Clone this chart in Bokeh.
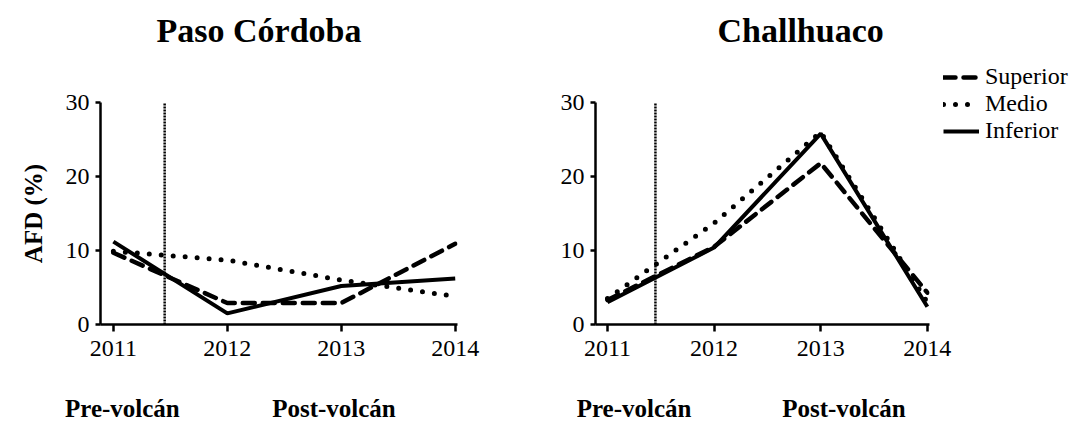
from bokeh.plotting import figure
from bokeh.models import FixedTicker, Legend, LegendItem, LinearAxis, Title
from bokeh.layouts import row
from bokeh.embed import file_html
from bokeh.resources import INLINE

years = [2011, 2012, 2013, 2014]
yticks = [0, 10, 20, 30]

# Paso Córdoba
pc_superior = [9.7, 2.9, 2.9, 10.9]
pc_medio = [9.9, 8.7, 6.0, 3.8]
pc_inferior = [11.2, 1.5, 5.2, 6.2]

# Challhuaco
ch_superior = [3.3, 10.5, 21.8, 4.3]
ch_medio = [3.5, 13.7, 26.0, 3.0]
ch_inferior = [3.0, 10.4, 25.8, 2.4]

series_names = ["Superior", "Medio", "Inferior"]
period_labels = ["Pre-volcán", "Post-volcán"]
volcano_x = 2011.45

FONT = "Liberation Serif"


def make_panel(title, sup, med, inf, x_start, fw, bl, br, bt, bb, ylabel, t_off, period_pos, legend=False):
    p = figure(width=bl + fw + br, height=bt + 222 + bb, frame_width=fw, frame_height=222,
               x_range=(x_start, 2014.02), y_range=(0, 30), title=None,
               output_backend="svg", toolbar_location=None,
               min_border_left=bl, min_border_right=br, min_border_top=bt, min_border_bottom=bb)
    p.outline_line_color = None
    p.xgrid.visible = False
    p.ygrid.visible = False
    p.border_fill_color = "white"

    # spacer between frame and title, then the title itself
    p.add_layout(Title(text=" ", text_font=FONT, text_font_size="34px"), "above")
    p.add_layout(Title(text=title, text_font=FONT, text_font_size="34px", text_font_style="bold",
                       text_color="black", align="left", offset=t_off), "above")

    for ax in (p.xaxis[0], p.yaxis[0]):
        ax.axis_line_width = 2.5
        ax.axis_line_color = "black"
        ax.major_tick_line_width = 2.5
        ax.major_tick_line_color = "black"
        ax.minor_tick_line_color = None
        ax.major_tick_in = 0
        ax.major_label_text_font = FONT
        ax.major_label_text_font_size = "24px"
        ax.major_label_text_color = "black"
    p.xaxis.ticker = FixedTicker(ticks=years)
    p.yaxis.ticker = FixedTicker(ticks=yticks)
    p.xaxis.major_tick_out = 7
    p.yaxis.major_tick_out = 5
    p.xaxis.major_label_standoff = 9
    p.yaxis.major_label_standoff = 6
    if ylabel:
        p.yaxis.axis_label = ylabel
        p.yaxis.axis_label_text_font = FONT
        p.yaxis.axis_label_text_font_size = "25px"
        p.yaxis.axis_label_text_font_style = "bold"
        p.yaxis.axis_label_text_color = "black"
        p.yaxis.axis_label_standoff = 16

    # period labels as a second, line-less axis below
    pax = LinearAxis(ticker=FixedTicker(ticks=period_pos),
                     major_label_overrides={period_pos[0]: period_labels[0],
                                            period_pos[1]: period_labels[1]})
    pax.axis_line_color = None
    pax.major_tick_line_color = None
    pax.minor_tick_line_color = None
    pax.major_tick_out = 0
    pax.major_tick_in = 0
    pax.major_label_standoff = 36
    pax.major_label_text_font = FONT
    pax.major_label_text_font_size = "25px"
    pax.major_label_text_font_style = "bold"
    pax.major_label_text_color = "black"
    p.add_layout(pax, "below")

    p.segment(x0=[volcano_x], y0=[0], x1=[volcano_x], y1=[30], line_color="black",
              line_width=2.5, line_dash="2 1")

    r_sup = p.line(years, sup, line_color="black", line_width=4.5, line_dash="12 8", line_cap="round")
    r_med = p.line(years, med, line_color="black", line_width=5, line_dash="0 12", line_cap="round")
    r_inf = p.line(years, inf, line_color="black", line_width=4)

    if legend:
        lg = Legend(items=[LegendItem(label=series_names[0], renderers=[r_sup]),
                           LegendItem(label=series_names[1], renderers=[r_med]),
                           LegendItem(label=series_names[2], renderers=[r_inf])],
                    location=(14, 180))
        lg.label_text_font = FONT
        lg.label_text_font_size = "24px"
        lg.label_text_color = "black"
        lg.label_height = 20
        lg.glyph_height = 20
        lg.glyph_width = 36
        lg.label_standoff = 6
        lg.spacing = 0
        lg.padding = 0
        lg.margin = 0
        lg.border_line_color = None
        lg.background_fill_alpha = 0
        p.add_layout(lg, "right")
    return p


left = make_panel("Paso Córdoba", pc_superior, pc_medio, pc_inferior,
                  x_start=2010.887, fw=357, bl=100, br=88, bt=101, bb=95, ylabel="AFD (%)",
                  t_off=56, period_pos=[2011.079, 2012.936])
right = make_panel("Challhuaco", ch_superior, ch_medio, ch_inferior,
                   x_start=2010.888, fw=334, bl=50, br=151, bt=102, bb=94, ylabel=None,
                   t_off=122, period_pos=[2011.25, 2013.218], legend=True)

layout = row(left, right, spacing=0)
open("out.html", "w").write(file_html(layout, INLINE))
